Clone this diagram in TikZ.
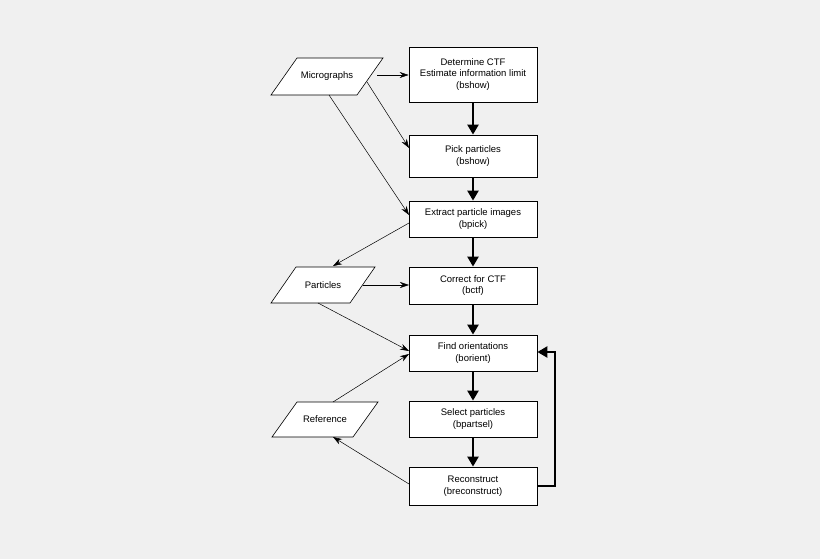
\documentclass[tikz,border=0pt]{standalone}
\usepackage{fontspec}
\setmainfont{Liberation Sans}
\usetikzlibrary{arrows.meta}
\begin{document}
\begin{tikzpicture}[x=1pt,y=-1pt,
  box/.style={draw,fill=white,line width=0.8pt,minimum width=128pt,align=center,font=\fontsize{9.5}{11.5}\selectfont,inner sep=0pt},
  io/.style={draw,fill=white,line width=0.6pt},
  lbl/.style={font=\fontsize{9.5}{11.5}\selectfont},
  thin/.style={-{Stealth[length=9pt,width=6pt]},line width=0.5pt},
  thick/.style={-{Triangle[length=10pt,width=11pt]},line width=2.4pt}]
\fill[white!94!black] (0,0) rectangle (820,559);
\node[box,minimum height=55pt] (b1) at (473,74.5) {Determine CTF\\Estimate information limit\\(bshow)};
\node[box,minimum height=42pt] (b2) at (473,156) {Pick particles\\(bshow)};
\node[box,minimum height=36pt] (b3) at (473,219) {Extract particle images\\(bpick)};
\node[box,minimum height=37pt] (b4) at (473,285.5) {Correct for CTF\\(bctf)};
\node[box,minimum height=36pt] (b5) at (473,353) {Find orientations\\(borient)};
\node[box,minimum height=36pt] (b6) at (473,419) {Select particles\\(bpartsel)};
\node[box,minimum height=38pt] (b7) at (473,486) {Reconstruct\\(breconstruct)};
\draw[io] (271,95) -- (297,58) -- (383,58) -- (357,95) -- cycle;
\node[lbl] (m) at (327,76.5) {Micrographs};
\draw[io] (271,303) -- (296,267) -- (375,267) -- (350,303) -- cycle;
\node[lbl] (p) at (323,285) {Particles};
\draw[io] (272,437) -- (297,402) -- (378,402) -- (353,437) -- cycle;
\node[lbl] (r) at (325,419.5) {Reference};
\coordinate (c1) at (555,486); \coordinate (c2) at (555,352);
\draw[thin] (377,75) -- (b1.west|-377,75);
\draw[thin] (367,82) -- (409,148);
\draw[thin] (329,95) -- (409,215);
\draw[thin] (409,223) -- (333,266);
\draw[thin] (363,285) -- (409,285);
\draw[thin] (318,303) -- (409,351);
\draw[thin] (333,402) -- (409,354);
\draw[thin] (409,484) -- (333,437);
\foreach \a/\b in {b1/b2,b2/b3,b3/b4,b4/b5,b5/b6,b6/b7}
  \draw[thick] (\a.south) -- (\b.north);
\draw[thick] (b7.east) -- (c1) -- (c2) -- (b5.east|-c2);
\end{tikzpicture}
\end{document}
